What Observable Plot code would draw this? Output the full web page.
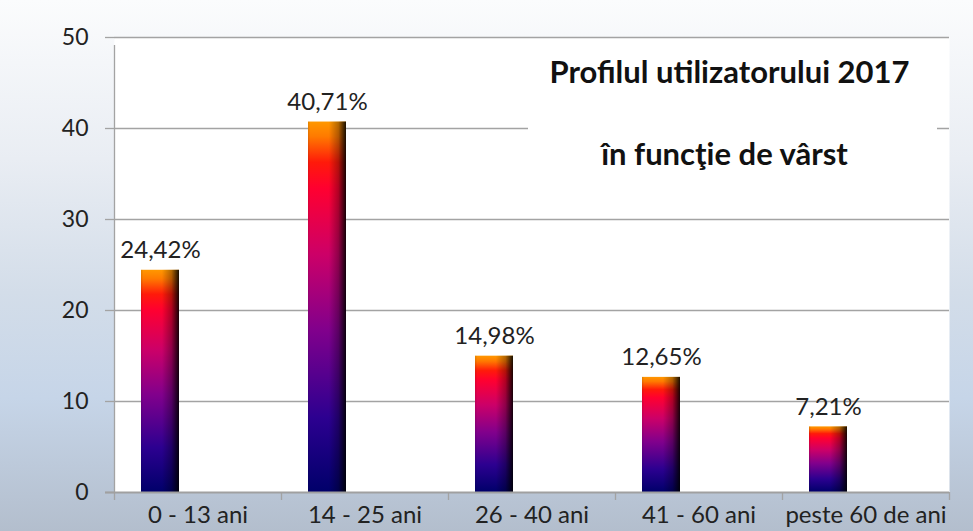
<!DOCTYPE html>
<html>
<head>
<meta charset="utf-8">
<script src="https://cdn.jsdelivr.net/npm/d3@7"></script>
<script src="https://cdn.jsdelivr.net/npm/@observablehq/plot@0.6"></script>
<style>
  html, body { margin: 0; padding: 0; overflow: hidden; }
  #wrap {
    position: relative; width: 973px; height: 531px; overflow: hidden;
    background: linear-gradient(to bottom, #fbfcfd 0%, #e9edf3 30%, #d3dde9 55%, #c6d5e8 75%, #b3becd 100%);
    font-family: Lato, "Open Sans", sans-serif;
  }
  #chart { position: absolute; left: 0; top: 0; }
  #titlebox { position: absolute; left: 528px; top: 52px; width: 409px; height: 150px; background: #fff; }
  .tline { position: absolute; width: 100%; text-align: center; font-weight: bold; font-size: 31px; line-height: 31px; color: #111; white-space: nowrap; }
</style>
</head>
<body>
<div id="wrap">
  <div id="chart"></div>
  <div id="titlebox">
    <div class="tline" id="t1" style="top:4px;left:-3px">Profilul utilizatorului 2017</div>
    <div class="tline" id="t2" style="top:86px;left:-8px">în funcţie de vârst</div>
  </div>
</div>
<script>
const categories = ["0 - 13 ani", "14 - 25 ani", "26 - 40 ani", "41 - 60 ani", "peste 60 de ani"];
const values = [24.42, 40.71, 14.98, 12.65, 7.21];
const yTicks = [0, 10, 20, 30, 40, 50];

const data = categories.map((c, i) => ({cat: c, v: values[i]}));
const W = 973, H = 531, ML = 114, MR = 24, MT = 37, MB = 39;
const bw = (W - ML - MR) / categories.length;
const fmt = v => v.toFixed(2).replace(".", ",") + "%";
const grid = "#a3a3a3";

const plot = Plot.plot({
  width: W, height: H,
  marginLeft: ML, marginRight: MR, marginTop: MT, marginBottom: MB,
  style: {background: "transparent", fontFamily: "Lato, 'Open Sans', sans-serif", fontSize: "23px", color: "#222", overflow: "visible"},
  x: {type: "band", domain: categories, padding: 0},
  y: {domain: [0, 50]},
  marks: [
    Plot.frame({fill: "white", stroke: null}),
    Plot.gridY(yTicks.filter(t => t > 0), {stroke: grid, strokeOpacity: 1, strokeWidth: 1.3}),
    Plot.axisY({ticks: yTicks, tickSize: 9, tickPadding: 17, stroke: grid, strokeWidth: 1.3, fontSize: 23, label: null, tickFormat: d => String(d)}),
    Plot.ruleX([categories[0]], {dx: -bw / 2, y1: 0, y2: 50, stroke: grid, strokeWidth: 1.3, insetBottom: -8}),
    Plot.axisX({tickSize: 8, dx: -bw / 2, stroke: grid, strokeWidth: 1.3, text: null, label: null}),
    Plot.axisX({ticks: [categories[categories.length - 1]], tickSize: 8, dx: bw / 2, stroke: grid, strokeWidth: 1.3, text: null, label: null}),
    Plot.axisX({tickSize: 0, tickPadding: 13, fontSize: 24, label: null}),
    Plot.barY(data, {x: "cat", y: "v", fill: "url(#gradV)", insetLeft: 27, insetRight: bw - 27 - 38}),
    Plot.barY(data, {x: "cat", y: "v", fill: "url(#gradH)", insetLeft: 27, insetRight: bw - 27 - 38}),
    Plot.ruleY([0], {stroke: "#a0a0a0", strokeWidth: 2.2, insetLeft: -9}),
    Plot.text(data, {x: "cat", y: "v", text: d => fmt(d.v), dx: 27 + 19 - bw / 2, dy: -12, lineAnchor: "bottom", fontSize: 24, fill: "#222"})
  ]
});

const svg = d3.select(plot);
const defs = svg.insert("defs", ":first-child");
const gv = defs.append("linearGradient").attr("id", "gradV").attr("x1", 0).attr("y1", 0).attr("x2", 0).attr("y2", 1);
[[0, "#ff9800"], [0.04, "#ff7a00"], [0.11, "#ff1a0a"], [0.18, "#ff0030"], [0.36, "#cc0068"], [0.56, "#82008c"], [0.8, "#2c0090"], [1, "#00006a"]]
  .forEach(([o, c]) => gv.append("stop").attr("offset", o).attr("stop-color", c));
const gh = defs.append("linearGradient").attr("id", "gradH").attr("x1", 0).attr("y1", 0).attr("x2", 1).attr("y2", 0);
[[0, "#000", 0.12], [0.06, "#000", 0], [0.55, "#000", 0], [0.8, "#000", 0.3], [1, "#000", 0.9]]
  .forEach(([o, c, a]) => gh.append("stop").attr("offset", o).attr("stop-color", c).attr("stop-opacity", a));

document.getElementById("chart").appendChild(plot);
</script>
</body>
</html>
